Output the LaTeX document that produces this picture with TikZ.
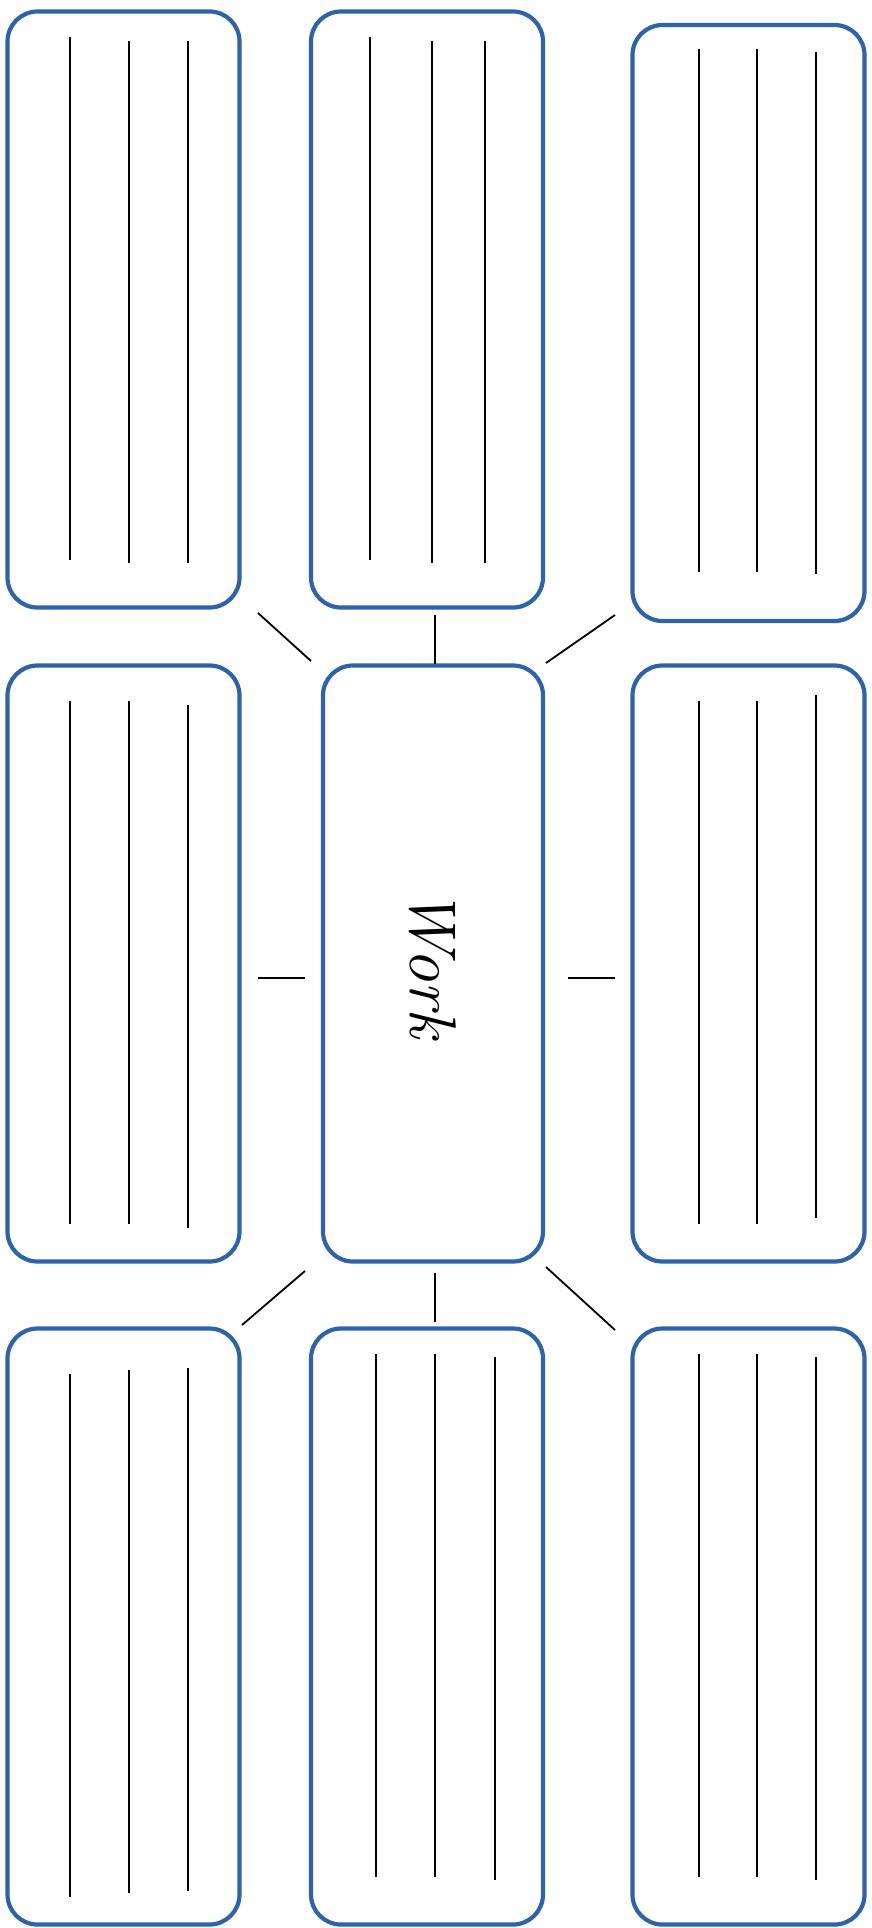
\documentclass[tikz,border=0pt]{standalone}
\usepackage{tikz}
\usetikzlibrary{positioning}
\definecolor{CardBlue}{RGB}{46,99,168}

\begin{document}
\begin{tikzpicture}[x=1pt, y=-1pt,
    card/.style={rectangle, rounded corners=30pt, draw=CardBlue, line width=4.2pt,
        minimum width=232pt, minimum height=596pt, inner sep=0pt},
    rule/.style={line width=1.8pt, black},
    link/.style={line width=1.8pt, black},
]
\useasboundingbox (0,0) rectangle (871,1928);

% outer cards
\node[card] (nw) at (123.5,309.5) {};
\node[card] (n)  at (427,309.5) {};
\node[card] (ne) at (748.5,323) {};
\node[card] (w)  at (123.5,963.5) {};
\node[card] (e)  at (748.5,963.5) {};
\node[card] (sw) at (123.5,1626.5) {};
\node[card] (s)  at (427,1626.5) {};
\node[card] (se) at (748.5,1626.5) {};

% middle card
\node[card, minimum width=220pt] (hub) at (433,963.5) {};
\node[rotate=-90, font=\itshape\fontsize{66}{66}\selectfont] (word) at (hub.center) {Work};

% writing lines
\foreach \x/\ya/\yb in {70/37/560, 129/41/563, 188/41/563,
    370/37/560, 432/41/563, 485/41/563,
    699/49/572, 757/49/572, 816/52/574,
    70/701/1224, 129/701/1224, 188/705/1228,
    699/701/1224, 757/701/1224, 816/695/1218,
    70/1374/1897, 129/1370/1893, 188/1368/1891,
    376/1354/1877, 435/1354/1877, 495/1357/1880,
    699/1354/1877, 757/1354/1877, 816/1357/1880}
    \draw[rule] (\x,\ya) -- (\x,\yb);

% short links
\coordinate (nwa) at (258,613);  \coordinate (nwb) at (311,661);
\coordinate (na)  at (435,615);  \coordinate (nb)  at (435,664);
\coordinate (nea) at (615,615);  \coordinate (neb) at (546,663);
\coordinate (wa)  at (258,978);  \coordinate (wb)  at (305,978);
\coordinate (ea)  at (615,978);  \coordinate (eb)  at (568,978);
\coordinate (swa) at (242,1325); \coordinate (swb) at (305,1271);
\coordinate (sa)  at (435,1322); \coordinate (sb)  at (435,1273);
\coordinate (sea) at (615,1330); \coordinate (seb) at (546,1267);

\draw[link] (nwa) -- (nwb);
\draw[link] (na) -- (nb);
\draw[link] (nea) -- (neb);
\draw[link] (wa) -- (wb);
\draw[link] (ea) -- (eb);
\draw[link] (swa) -- (swb);
\draw[link] (sa) -- (sb);
\draw[link] (sea) -- (seb);
\end{tikzpicture}
\end{document}
